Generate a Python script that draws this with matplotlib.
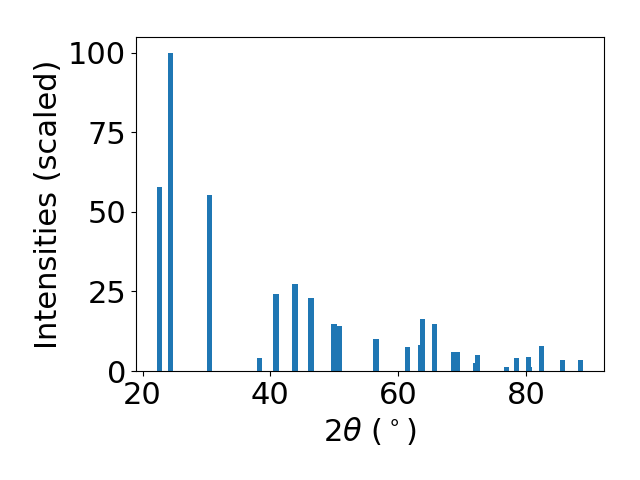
import matplotlib
matplotlib.use("Agg")
import matplotlib.pyplot as plt

two_theta = [22.7, 24.34, 30.5, 38.37, 40.88, 43.86, 46.36, 49.97, 50.75,
             56.55, 61.41, 63.45, 63.76, 65.64, 68.62, 69.25, 72.1, 72.4,
             76.93, 78.5, 80.54, 80.38, 82.42, 85.7, 88.53]
intensity = [58.0, 100.0, 55.2, 4.1, 24.1, 27.3, 22.9, 14.7, 14.1,
             10.0, 7.5, 8.2, 16.3, 14.7, 6.0, 6.0, 2.5, 5.0,
             1.25, 4.1, 1.25, 4.4, 7.8, 3.4, 3.4]

plt.rcParams["font.size"] = 22

fig, ax = plt.subplots(figsize=(6.4, 4.8), dpi=100)
ax.bar(two_theta, intensity, width=0.8, color="C0")
ax.set_xlabel(r"$2\theta$ ($^\circ$)")
ax.set_ylabel("Intensities (scaled)")
ax.set_yticks([0, 25, 50, 75, 100])
fig.subplots_adjust(left=0.2125, right=0.944, top=0.923, bottom=0.227)
fig.savefig("out.png", dpi=100)
